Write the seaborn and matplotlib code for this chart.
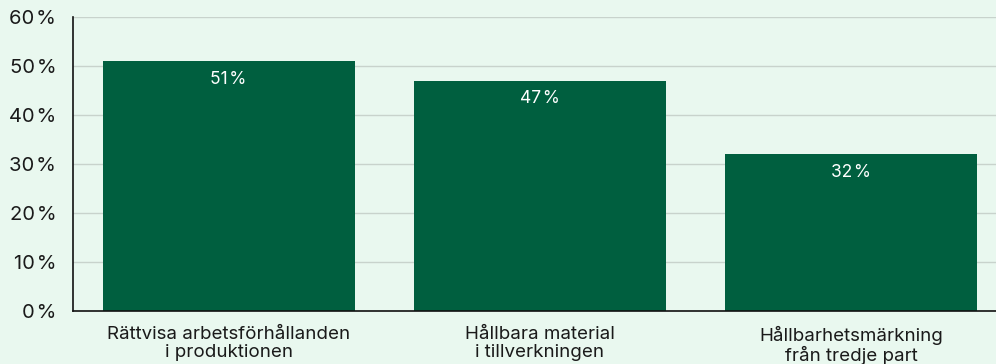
import matplotlib
matplotlib.use("Agg")
import matplotlib.pyplot as plt
import seaborn as sns
import pandas as pd

categories = [
    "Rättvisa arbetsförhållanden\ni produktionen",
    "Hållbara material\ni tillverkningen",
    "Hållbarhetsmärkning\nfrån tredje part",
]
values = [51, 47, 32]
y_ticks = [0, 10, 20, 30, 40, 50, 60]

bg = "#E9F8EF"
bar_color = "#005F3F"

sns.set_theme(style="white")
plt.rcParams["font.family"] = ["Inter", "DejaVu Sans"]

df = pd.DataFrame({"kategori": categories, "andel": values})

fig = plt.figure(figsize=(9.96, 3.64), dpi=100, facecolor=bg)
ax = fig.add_axes([0.0733, 0.1456, 0.9267, 0.8077])
ax.set_facecolor(bg)

sns.barplot(data=df, x="kategori", y="andel", color=bar_color,
            saturation=1, width=0.81, linewidth=0, ax=ax, zorder=3)

ax.set_ylim(0, 60)
ax.set_xlim(-0.5, 2.465)
ax.set_yticks(y_ticks)
ax.set_yticklabels([f"{t}\u200a%" for t in y_ticks], fontsize=14.5, color="#1a1a1a")
ax.tick_params(axis="y", length=0, pad=12)
ax.tick_params(axis="x", length=0, pad=11, labelsize=13.5, colors="#1a1a1a")
for lbl in ax.get_xticklabels():
    lbl.set_linespacing(1.05)
ax.grid(axis="y", color="#C8D3CC", linewidth=1, zorder=0)
ax.set_xlabel("")
ax.set_ylabel("")

for s in ["top", "right"]:
    ax.spines[s].set_visible(False)
for s in ["left", "bottom"]:
    ax.spines[s].set_color("#111111")
    ax.spines[s].set_linewidth(1.2)
    ax.spines[s].set_zorder(4)

for i, v in enumerate(values):
    ax.annotate(f"{v}\u200a%", xy=(i, v), xytext=(0, -13), textcoords="offset points",
                ha="center", va="center", color="white", fontsize=12.5, zorder=5)

fig.savefig("out.png", dpi=100, facecolor=bg)
